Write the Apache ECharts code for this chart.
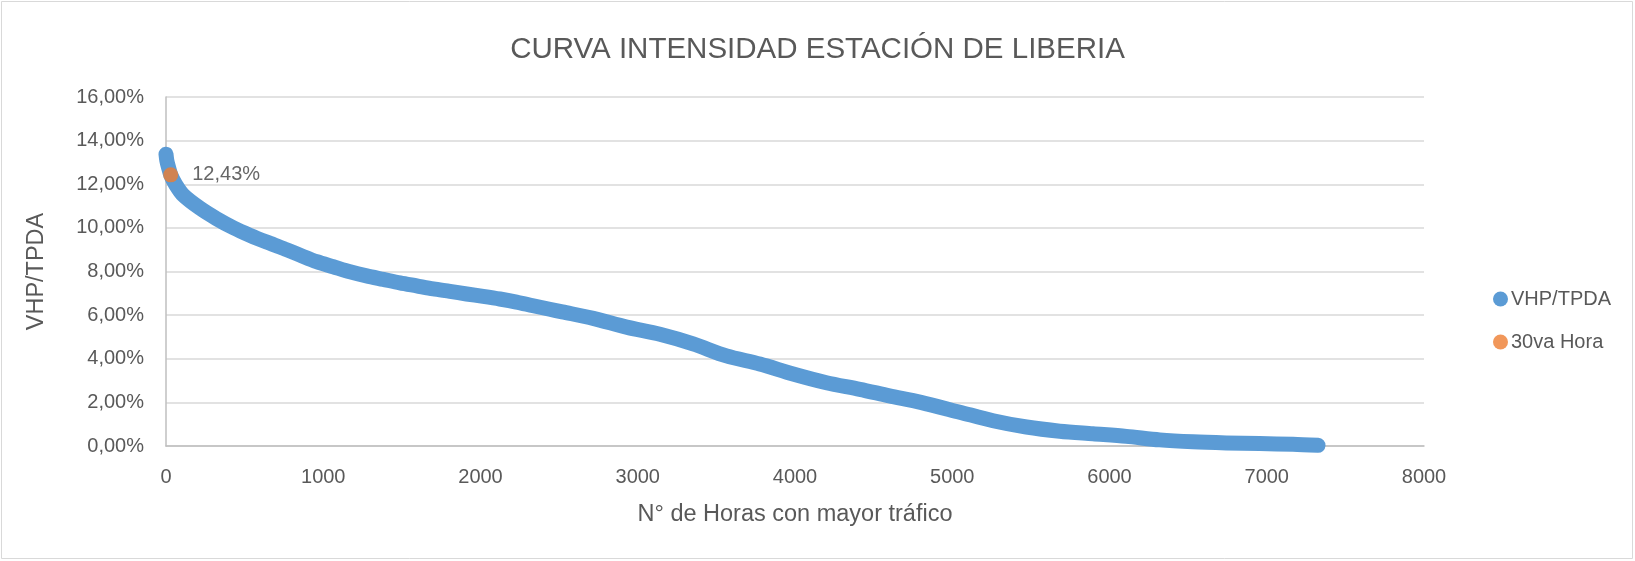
<!DOCTYPE html>
<html>
<head>
<meta charset="utf-8">
<title>Curva intensidad</title>
<script src="https://cdn.jsdelivr.net/npm/echarts@6/dist/echarts.min.js"></script>
<style>
    html, body { margin: 0; padding: 0; background: #ffffff; }
    #chart { width: 1635px; height: 561px; }
</style>
</head>
<body>
<div id="chart"></div>
<script>
// horas ordenadas de mayor a menor trafico (eje X)
var horas = [0, 5, 15, 30, 60, 110, 216, 322, 430, 534, 640, 746, 852, 958, 1064, 1170, 1276, 1382,
    1488, 1594, 1700, 1806, 1912, 2017, 2123, 2229, 2335, 2440, 2520, 2717, 2929, 3141, 3352, 3564,
    3776, 3988, 4200, 4412, 4600, 4800, 5048, 5260, 5472, 5684, 5895, 6107, 6319, 6531, 6743, 6955,
    7167, 7326];
// VHP/TPDA en %
var vhpTpda = [13.38, 13.1, 12.8, 12.43, 12.0, 11.5, 10.9, 10.42, 10.0, 9.66, 9.35, 9.06, 8.75, 8.45,
    8.22, 7.99, 7.8, 7.64, 7.48, 7.34, 7.2, 7.09, 6.97, 6.86, 6.74, 6.6, 6.43, 6.27, 6.15, 5.85, 5.45,
    5.12, 4.68, 4.13, 3.76, 3.3, 2.9, 2.6, 2.3, 2.0, 1.55, 1.16, 0.87, 0.68, 0.56, 0.44, 0.28, 0.19,
    0.14, 0.11, 0.08, 0.03];
// punto de la hora 30
var hora30 = [30];
var valor30 = [12.43];
var ejeXTicks = [0, 1000, 2000, 3000, 4000, 5000, 6000, 7000, 8000];
var ejeYTicks = [0, 2, 4, 6, 8, 10, 12, 14, 16];

var fuente = 'Liberation Sans';
var gris = '#595959';

function pct(v) {
    return v.toFixed(2).replace('.', ',') + '%';
}

function echart() {
    var myChart = echarts.init(document.getElementById('chart'));

    var curva = [];
    for (var i = 0; i < horas.length; i++) {
        curva.push([horas[i], vhpTpda[i]]);
    }
    var punto = [];
    for (var j = 0; j < hora30.length; j++) {
        punto.push([hora30[j], valor30[j]]);
    }

    var option = {
        animation: false,
        backgroundColor: '#ffffff',
        textStyle: { fontFamily: fuente },
        title: {
            text: 'CURVA INTENSIDAD ESTACIÓN DE LIBERIA',
            left: 'center',
            top: 30,
            textStyle: { color: gris, fontSize: 29.5, fontWeight: 'normal', fontFamily: fuente }
        },
        graphic: [{
            type: 'rect',
            shape: { x: 1.5, y: 1.5, width: 1631, height: 557 },
            style: { fill: 'none', stroke: '#D9D9D9', lineWidth: 1 },
            silent: true
        }],
        legend: {
            orient: 'vertical',
            left: 1488,
            top: 284,
            itemWidth: 15,
            itemHeight: 15,
            itemGap: 23,
            textStyle: { color: gris, fontSize: 20, fontFamily: fuente, padding: [0, 0, 0, -2] },
            data: [
                { name: 'VHP/TPDA', icon: 'circle' },
                { name: '30va Hora', icon: 'circle' }
            ]
        },
        grid: { left: 166, right: 211, top: 97, bottom: 115 },
        xAxis: {
            type: 'value',
            min: ejeXTicks[0],
            max: ejeXTicks[ejeXTicks.length - 1],
            interval: ejeXTicks[1] - ejeXTicks[0],
            name: 'N° de Horas con mayor tráfico',
            nameLocation: 'middle',
            nameGap: 57,
            nameTextStyle: { color: gris, fontSize: 23.5, fontFamily: fuente },
            axisLine: { show: true, lineStyle: { color: '#BFBFBF', width: 1.5 } },
            axisTick: { show: false },
            axisLabel: {
                color: gris, fontSize: 20, margin: 21, fontFamily: fuente,
                formatter: function (v) { return String(v); }
            },
            splitLine: { show: false }
        },
        yAxis: {
            type: 'value',
            min: ejeYTicks[0],
            max: ejeYTicks[ejeYTicks.length - 1],
            interval: ejeYTicks[1] - ejeYTicks[0],
            name: 'VHP/TPDA',
            nameLocation: 'middle',
            nameRotate: 90,
            nameGap: 117,
            nameTextStyle: { color: gris, fontSize: 23.5, fontFamily: fuente },
            axisLine: { show: true, lineStyle: { color: '#BFBFBF', width: 1.5 } },
            axisTick: { show: false },
            axisLabel: {
                color: gris, fontSize: 20, margin: 22, fontFamily: fuente,
                formatter: function (v) { return pct(v); }
            },
            splitLine: { show: true, lineStyle: { color: '#D9D9D9', width: 1.5 } }
        },
        series: [{
            name: 'VHP/TPDA',
            type: 'line',
            data: curva,
            showSymbol: false,
            symbol: 'circle',
            smooth: 0.3,
            itemStyle: { color: '#5B9BD5' },
            lineStyle: { color: '#5B9BD5', width: 15, cap: 'round', join: 'round' },
            z: 2
        }, {
            name: '30va Hora',
            type: 'scatter',
            data: punto,
            symbol: 'circle',
            symbolSize: 15,
            itemStyle: { color: '#ED7D31' },
            label: {
                show: true,
                position: 'right',
                distance: 14,
                color: '#404040',
                fontSize: 20,
                fontFamily: fuente,
                formatter: function (p) { return pct(p.value[1]); }
            },
            z: 3
        }]
    };

    myChart.setOption(option);
}

echart();
</script>
</body>
</html>
